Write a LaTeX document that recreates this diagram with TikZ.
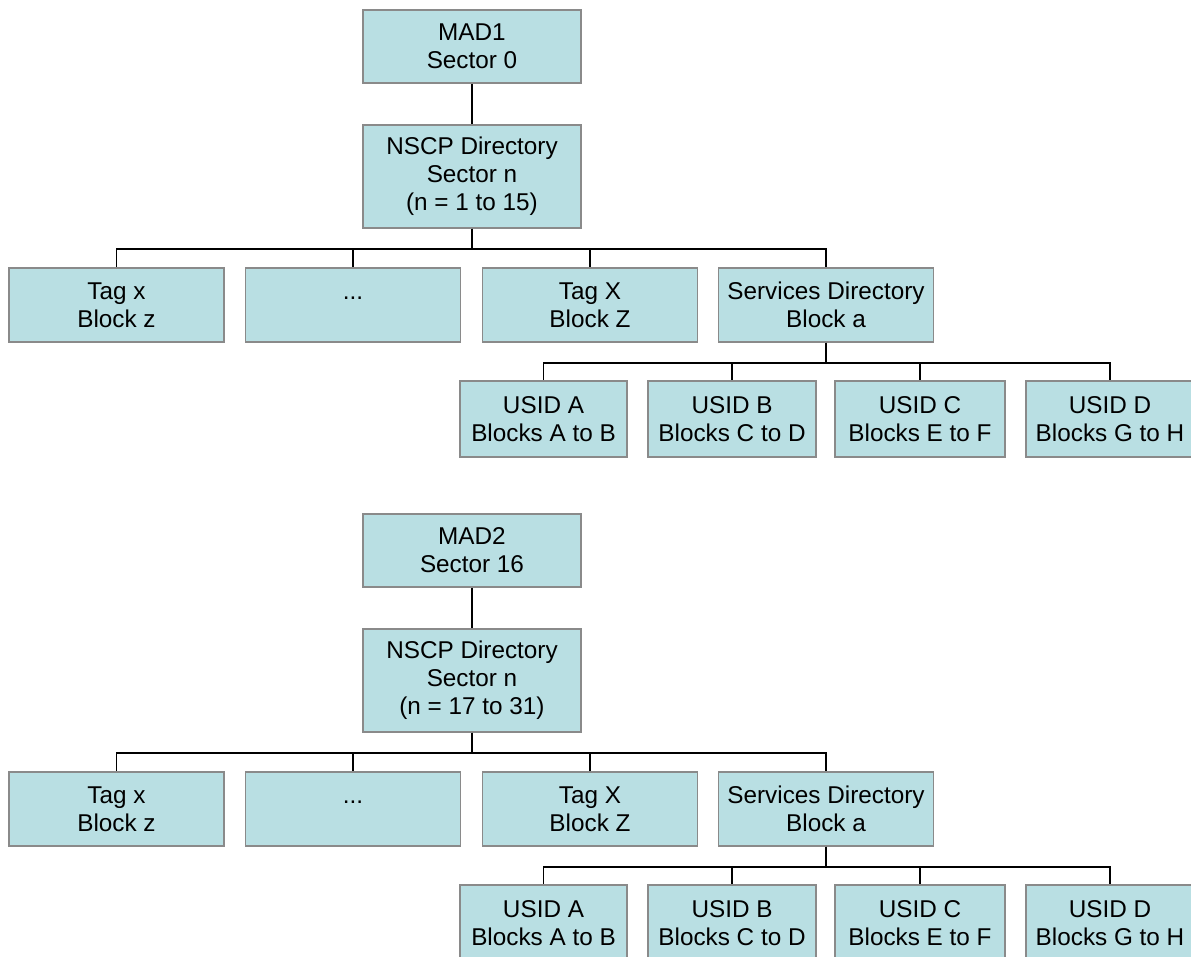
\documentclass[tikz,border=0pt]{standalone}
\usepackage{fontspec}
\setmainfont{Liberation Sans}
\definecolor{boxfill}{HTML}{B9DFE3}
\definecolor{boxline}{HTML}{8A8A8A}
\tikzset{
  box/.style={draw=boxline, line width=1.8pt, fill=boxfill, align=center,
    inner sep=0pt, font=\fontsize{24.3}{28}\selectfont},
  topbox/.style={box, minimum width=218pt},
  tagbox/.style={box, minimum width=215pt, minimum height=74pt},
  usidbox/.style={box, minimum width=168pt, minimum height=76pt},
  link/.style={draw=black, line width=1.3pt},
}
\newcommand\mytree[3]{%
  \node[topbox, minimum height=73pt] (#1mad) at (472,46.5) {#2};
  \node[topbox, minimum height=103pt] (#1nscp) at (472,176.5) {NSCP Directory\\Sector n\\#3};
  \node[tagbox] (#1tagx) at (116.5,305) {Tag x\\Block z};
  \node[tagbox] (#1dots) at (353,305) {\vphantom{T}...\\\vphantom{B}};
  \node[tagbox] (#1tagX) at (590,305) {Tag X\\Block Z};
  \node[tagbox] (#1serv) at (826,305) {Services Directory\\Block a};
  \node[usidbox, minimum width=167pt] (#1ua) at (543.5,419) {USID A\\Blocks A to B};
  \node[usidbox] (#1ub) at (732,419) {USID B\\Blocks C to D};
  \node[usidbox, minimum width=170pt] (#1uc) at (920,419) {USID C\\Blocks E to F};
  \node[usidbox] (#1ud) at (1110,419) {USID D\\Blocks G to H};
  \draw[link] (#1mad.south) -- (#1nscp.north);
  \foreach \c in {tagx,dots,tagX,serv}{
    \draw[link] (#1nscp.south) -- ++(0,20) -| (#1\c.north);
  }
  \foreach \c in {ua,ub,uc,ud}{
    \draw[link] (#1serv.south) -- ++(0,20) -| (#1\c.north);
  }
}
\begin{document}
\begin{tikzpicture}[x=1pt, y=-1pt]
  \useasboundingbox (0,0) rectangle (1191,957);
  \clip (0,0) rectangle (1191,957);
  \mytree{A}{MAD1\\Sector 0}{(n = 1 to 15)}
  \begin{scope}[shift={(0,504)}]
    \mytree{B}{MAD2\\Sector 16}{(n = 17 to 31)}
  \end{scope}
\end{tikzpicture}
\end{document}
